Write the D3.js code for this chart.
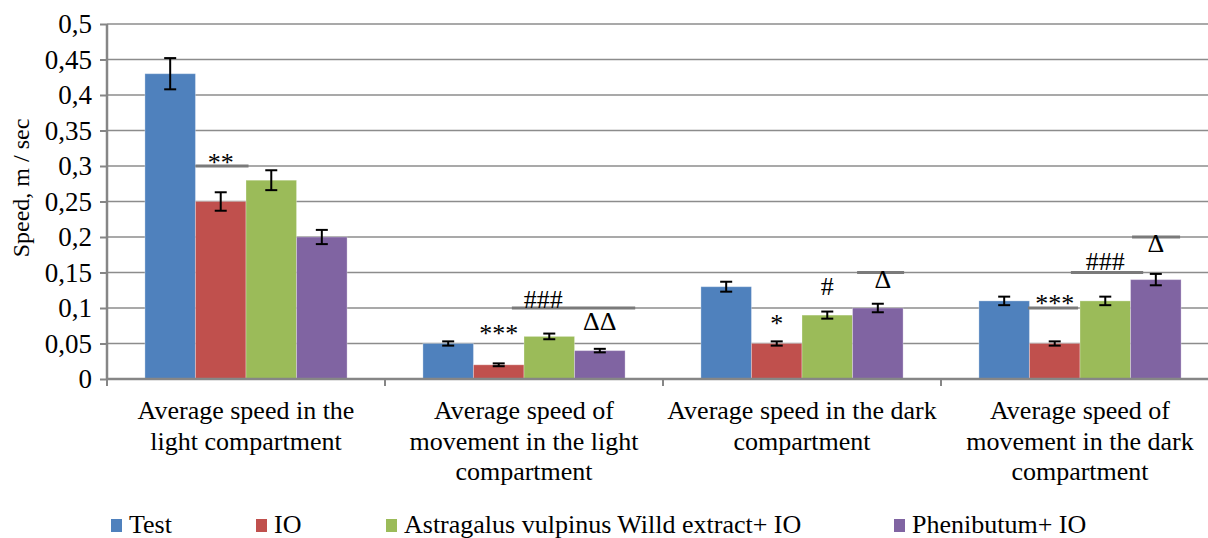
<!DOCTYPE html>
<html>
<head>
<meta charset="utf-8">
<script src="https://cdn.jsdelivr.net/npm/d3@7"></script>
<style>
  html, body { margin: 0; padding: 0; background: #fff; }
  svg { display: block; }
  text { font-family: "Liberation Serif", "Times New Roman", serif; fill: #000; }
</style>
</head>
<body>
<svg id="chart" width="1208" height="538"></svg>
<script>
// Categories (x-axis groups), one line per wrapped label row
const categories = [
  ["Average speed in the", "light compartment"],
  ["Average speed of", "movement in the light", "compartment"],
  ["Average speed in the dark", "compartment"],
  ["Average speed of", "movement in the dark", "compartment"]
];
const seriesNames = ["Test", "IO", "Astragalus vulpinus Willd extract+ IO", "Phenibutum+ IO"];
const seriesColors = ["#4f81bd", "#c0504d", "#9bbb59", "#8064a2"];

// Mean speed (m/s) per series, one value per category
const testValues       = [0.43, 0.05, 0.13, 0.11];
const ioValues         = [0.25, 0.02, 0.05, 0.05];
const astragalusValues = [0.28, 0.06, 0.09, 0.11];
const phenibutumValues = [0.20, 0.04, 0.10, 0.14];

// Error bar half-widths (m/s)
const testErrors       = [0.022, 0.003, 0.007, 0.006];
const ioErrors         = [0.013, 0.002, 0.003, 0.003];
const astragalusErrors = [0.014, 0.004, 0.005, 0.006];
const phenibutumErrors = [0.010, 0.0025, 0.006, 0.008];

const yTicks = [0, 0.05, 0.1, 0.15, 0.2, 0.25, 0.3, 0.35, 0.4, 0.45, 0.5];
const yTickLabels = ["0", "0,05", "0,1", "0,15", "0,2", "0,25", "0,3", "0,35", "0,4", "0,45", "0,5"];
const yTitle = "Speed, m / sec";

// Significance marks: category index, series index the mark sits over, value level of text baseline
const marks = [
  { cat: 0, series: 1, text: "**",  level: 0.293 },
  { cat: 1, series: 1, text: "***", level: 0.052 },
  { cat: 1, series: 2, text: "###", level: 0.100, shift: -0.12 },
  { cat: 1, series: 3, text: "ΔΔ",  level: 0.069 },
  { cat: 2, series: 1, text: "*",   level: 0.066 },
  { cat: 2, series: 2, text: "#",   level: 0.118 },
  { cat: 2, series: 3, text: "Δ",   level: 0.128, shift: 0.1 },
  { cat: 3, series: 1, text: "***", level: 0.094 },
  { cat: 3, series: 2, text: "###", level: 0.1535 },
  { cat: 3, series: 3, text: "Δ",   level: 0.179 }
];
// Comparison bars: category, value level, start/end measured in bar slots from the group's first bar
const brackets = [
  { cat: 0, level: 0.30, from: 1.0,  to: 2.05 },
  { cat: 1, level: 0.10, from: 1.76, to: 4.2 },
  { cat: 2, level: 0.15, from: 3.09, to: 4.02 },
  { cat: 3, level: 0.10, from: 0.97, to: 1.96 },
  { cat: 3, level: 0.15, from: 1.82, to: 3.25 },
  { cat: 3, level: 0.20, from: 3.03, to: 3.98 }
];

const values = [testValues, ioValues, astragalusValues, phenibutumValues];
const errors = [testErrors, ioErrors, astragalusErrors, phenibutumErrors];

const plot = { left: 107, right: 1219, top: 24, bottom: 379 };
const fontSize = 26;

const svg = d3.select("#chart");

const catIdx = categories.map((c, i) => i);
const x0 = d3.scaleBand().domain(catIdx).range([plot.left, plot.right]).padding(0);
const x1 = d3.scaleBand().domain(d3.range(seriesNames.length))
  .range([0, x0.bandwidth()]).paddingInner(0).paddingOuter(0.75);
const y = d3.scaleLinear().domain([0, 0.5]).range([plot.bottom, plot.top]);

// Gridlines
svg.append("g").selectAll("line").data(yTicks.filter(t => t > 0)).join("line")
  .attr("x1", plot.left).attr("x2", plot.right)
  .attr("y1", d => y(d)).attr("y2", d => y(d))
  .attr("stroke", "#8c8c8c").attr("stroke-width", 1.6);

// Bars
const groups = svg.append("g").selectAll("g").data(catIdx).join("g")
  .attr("transform", c => `translate(${x0(c)},0)`);

groups.selectAll("rect").data(c => values.map((v, s) => ({ s, v: v[c] }))).join("rect")
  .attr("x", d => x1(d.s)).attr("width", x1.bandwidth())
  .attr("y", d => y(d.v)).attr("height", d => y(0) - y(d.v))
  .attr("fill", d => seriesColors[d.s])
  .attr("stroke", "#ffffff").attr("stroke-opacity", 0.3).attr("stroke-width", 1);

// Comparison bars
svg.append("g").selectAll("line").data(brackets).join("line")
  .attr("x1", d => x0(d.cat) + x1(0) + d.from * x1.step())
  .attr("x2", d => x0(d.cat) + x1(0) + d.to * x1.step())
  .attr("y1", d => y(d.level)).attr("y2", d => y(d.level))
  .attr("stroke", "#7a7a7a").attr("stroke-width", 3);

// Error bars
const capHalf = 6;
const eb = groups.selectAll("g.err").data(c => values.map((v, s) => ({ s, v: v[c], e: errors[s][c] })))
  .join("g").attr("class", "err")
  .attr("transform", d => `translate(${x1(d.s) + x1.bandwidth() / 2},0)`);
eb.append("line").attr("y1", d => y(d.v + d.e)).attr("y2", d => y(d.v - d.e))
  .attr("stroke", "#000").attr("stroke-width", 2);
eb.append("line").attr("x1", -capHalf).attr("x2", capHalf)
  .attr("y1", d => y(d.v + d.e)).attr("y2", d => y(d.v + d.e))
  .attr("stroke", "#000").attr("stroke-width", 2);
eb.append("line").attr("x1", -capHalf).attr("x2", capHalf)
  .attr("y1", d => y(d.v - d.e)).attr("y2", d => y(d.v - d.e))
  .attr("stroke", "#000").attr("stroke-width", 2);

// Significance marks
svg.append("g").selectAll("text").data(marks).join("text")
  .attr("x", d => x0(d.cat) + x1(d.series) + x1.bandwidth() / 2 + (d.shift || 0) * x1.step())
  .attr("y", d => y(d.level))
  .attr("text-anchor", "middle")
  .attr("font-size", fontSize)
  .text(d => d.text);

// Y axis
const yAxis = d3.axisLeft(y).tickValues(yTicks)
  .tickFormat((d, i) => yTickLabels[i]).tickSize(7).tickPadding(0);
const gy = svg.append("g").attr("transform", `translate(${plot.left},0)`).call(yAxis);
gy.select(".domain").attr("stroke", "#868686").attr("stroke-width", 2.5)
  .attr("d", `M0,${plot.top}V${plot.bottom}`);
gy.selectAll(".tick line").attr("stroke", "#868686").attr("stroke-width", 2);
gy.selectAll(".tick text")
  .attr("x", -15).attr("dy", "0.33em")
  .attr("font-size", 27).attr("font-family", "Liberation Serif").attr("fill", "#000");

// X axis
svg.append("line").attr("x1", plot.left).attr("x2", plot.right)
  .attr("y1", y(0)).attr("y2", y(0))
  .attr("stroke", "#868686").attr("stroke-width", 2.5);
svg.append("g").selectAll("line").data(catIdx.concat([categories.length])).join("line")
  .attr("x1", c => c < categories.length ? x0(c) : plot.right)
  .attr("x2", c => c < categories.length ? x0(c) : plot.right)
  .attr("y1", y(0)).attr("y2", y(0) + 7)
  .attr("stroke", "#868686").attr("stroke-width", 2);

// Category labels
const lineGap = 30.5;
const catLabels = svg.append("g").selectAll("g").data(catIdx).join("g")
  .attr("transform", c => `translate(${x0(c) + x0.bandwidth() / 2},419)`);
catLabels.selectAll("text").data(c => categories[c]).join("text")
  .attr("y", (d, i) => i * lineGap)
  .attr("text-anchor", "middle").attr("font-size", fontSize)
  .text(d => d);

// Y title
svg.append("text")
  .attr("transform", `translate(29,188) rotate(-90)`)
  .attr("text-anchor", "middle").attr("font-size", 24)
  .text(yTitle);

// Legend
const legendX = [111, 256, 386, 894];
const lg = svg.append("g").selectAll("g").data(seriesNames).join("g")
  .attr("transform", (d, i) => `translate(${legendX[i]},0)`);
lg.append("rect").attr("x", 0).attr("y", 519).attr("width", 11).attr("height", 13)
  .attr("fill", (d, i) => seriesColors[i]);
lg.append("text")
  .attr("x", 18).attr("y", 533)
  .attr("font-size", fontSize)
  .text(d => d);
</script>
</body>
</html>
